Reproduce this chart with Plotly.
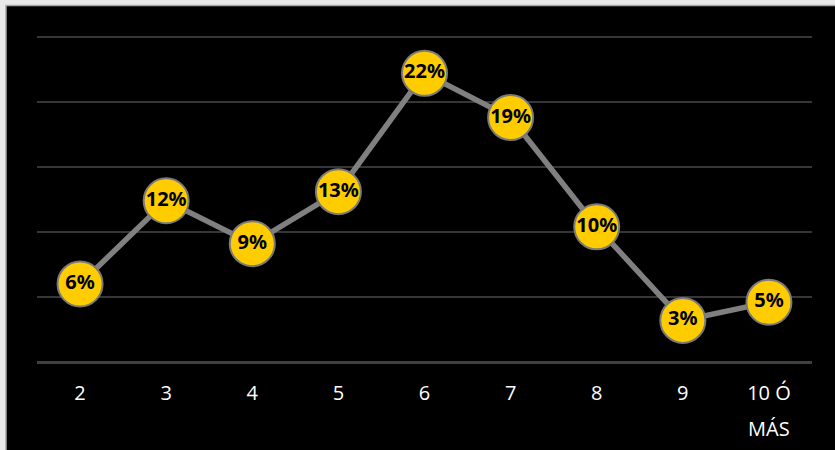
import plotly.graph_objects as go

categories = ["2", "3", "4", "5", "6", "7", "8", "9", "10 Ó MÁS"]
values = [6.0, 12.4, 9.1, 13.1, 22.2, 18.8, 10.4, 3.2, 4.6]
y_ticks = [0, 5, 10, 15, 20, 25]

W, H = 835, 450
L, R, T, B = 37, 23, 33, 88
pw, ph = W - L - R, H - T - B

def px_x(p):
    return (p - L) / pw

def px_y(p):
    return (H - B - p) / ph

# category labels wrap onto two lines in the reference ("10 Ó" / "MÁS")
first_lines = [c if len(c) <= 2 else c.rsplit(" ", 1)[0] for c in categories]
second_lines = [("" if len(c) <= 2 else c.rsplit(" ", 1)[1]) for c in categories]

label_font = dict(family="Open Sans, Noto Sans, sans-serif", size=20, color="#ffffff")

fig = go.Figure()
fig.add_trace(go.Scatter(
    x=categories, y=values,
    mode="lines+markers+text",
    line=dict(color="#808080", width=5.5),
    marker=dict(size=45, color="#ffcc00", line=dict(color="#7a7a7a", width=2)),
    text=[f"{round(v)}%" for v in values],
    textposition="middle center",
    textfont=dict(family="Noto Sans, Open Sans, sans-serif", size=20, color="#000000", weight="bold"),
    cliponaxis=False,
    hoverinfo="skip",
))

fig.add_shape(type="rect", xref="paper", yref="paper",
              x0=px_x(6), x1=px_x(W + 5), y0=px_y(H + 5), y1=px_y(5.5),
              fillcolor="#000000", line=dict(color="#a6a6a6", width=1.5), layer="below")

for c, s in zip(categories, second_lines):
    if s:
        fig.add_annotation(x=c, xref="x", y=px_y(428), yref="paper", text=s,
                           showarrow=False, font=label_font,
                           xanchor="center", yanchor="middle")

fig.update_layout(
    width=W, height=H,
    margin=dict(l=L, r=R, t=T, b=B, pad=0),
    paper_bgcolor="#e8e8e8",
    plot_bgcolor="#000000",
    showlegend=False,
    xaxis=dict(
        type="category", showgrid=False, zeroline=False,
        showline=False, ticks="",
        tickmode="array", tickvals=categories, ticktext=first_lines,
        tickfont=label_font,
        range=[-0.5, len(categories) - 0.5],
        ticklabelstandoff=17,
    ),
    yaxis=dict(
        range=[0, 25.3], tickvals=y_ticks, showticklabels=False,
        showgrid=True, gridcolor="#363636", gridwidth=1.5,
        zeroline=True, zerolinecolor="#404040", zerolinewidth=3,
        showline=False, ticks="",
    ),
)

fig.write_html(
    "out.html",
    config={"displayModeBar": False},
    post_script="document.body.style.margin='0';document.body.style.background='#e8e8e8';document.body.style.overflow='hidden';",
)
